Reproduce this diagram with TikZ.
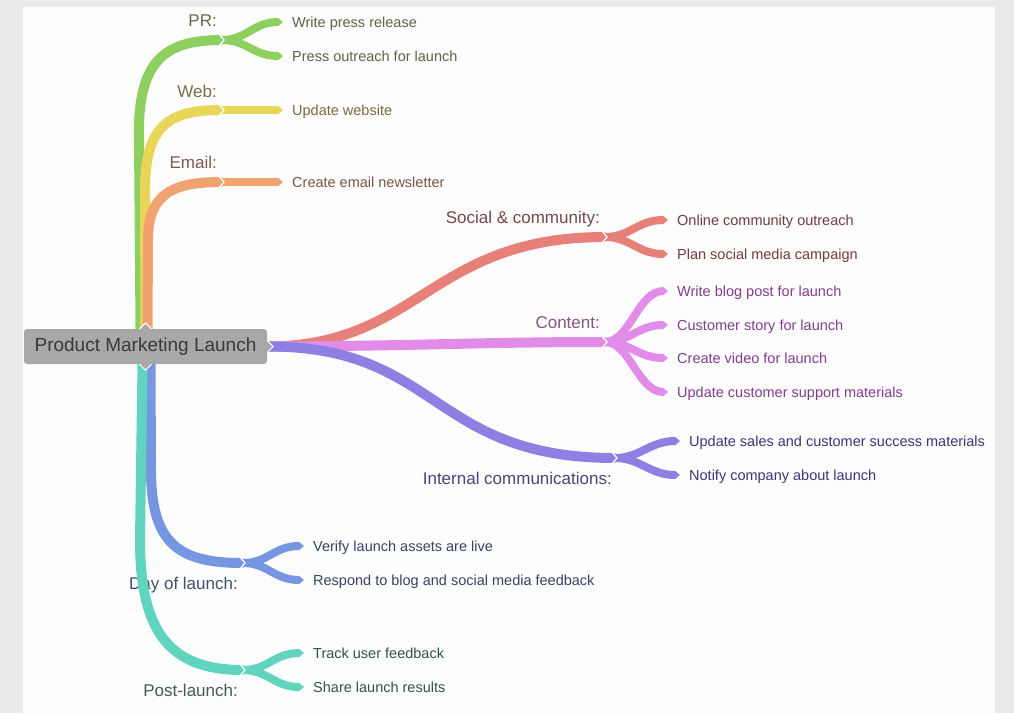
\documentclass[tikz,border=0pt]{standalone}
\usepackage{fontspec}
\setmainfont{Liberation Sans}
\usetikzlibrary{arrows.meta}
\definecolor{pagegray}{RGB}{234,234,234}
\definecolor{cardwhite}{RGB}{253,253,253}
\definecolor{rootgray}{RGB}{168,168,168}
\definecolor{roottext}{RGB}{58,58,58}
\definecolor{prgreen}{RGB}{141,208,96}
\definecolor{webyellow}{RGB}{232,214,88}
\definecolor{mailorange}{RGB}{240,162,112}
\definecolor{socred}{RGB}{232,128,122}
\definecolor{contpink}{RGB}{224,140,232}
\definecolor{intpurple}{RGB}{142,128,226}
\definecolor{dayblue}{RGB}{118,150,226}
\definecolor{postteal}{RGB}{96,212,190}
\definecolor{prtext}{RGB}{90,102,70}
\definecolor{webtext}{RGB}{120,105,62}
\definecolor{mailtext}{RGB}{118,86,68}
\definecolor{soctext}{RGB}{115,60,58}
\definecolor{conttext}{RGB}{130,62,140}
\definecolor{inttext}{RGB}{62,52,120}
\definecolor{daytext}{RGB}{55,68,102}
\definecolor{posttext}{RGB}{52,82,78}

\begin{document}
\begin{tikzpicture}[x=1pt,y=-1pt,
  limb/.style={line width=10pt,line cap=butt},
  twig/.style={line width=8pt,line cap=butt,-{Triangle[length=0pt 0.6,width=0pt 1,line width=0pt]}},
  notch/.style={white,line width=1.3pt},
  leaf/.style={anchor=west,inner sep=0pt,text height=10.4pt,text depth=0pt,font=\fontsize{14.5}{16}\selectfont},
  tag/.style={anchor=east,inner sep=0pt,text height=12.2pt,text depth=0pt,font=\fontsize{17}{19}\selectfont},
  root/.style={fill=rootgray,text=roottext,rounded corners=3pt,minimum width=243pt,minimum height=35pt,font=\fontsize{19}{21}\selectfont}]
    \useasboundingbox (0,0) rectangle (1014,713);
    \fill[pagegray] (0,0) rectangle (1014,713);
    \fill[cardwhite] (23,7) rectangle (995,713);

    \node[root] (pml) at (145.5,346.5) {Product Marketing Launch};

    % junctions
    \coordinate (prJ) at (222,40);   \coordinate (webJ) at (222,110);  \coordinate (mailJ) at (222,182);
    \coordinate (socJ) at (605,237); \coordinate (contJ) at (605,342); \coordinate (intJ) at (615,458);
    \coordinate (dayJ) at (243,563); \coordinate (postJ) at (243,670);

    % leaves
    \node[leaf,prtext] (pr1) at (292,22) {Write press release};
    \node[leaf,prtext] (pr2) at (292,56) {Press outreach for launch};
    \node[leaf,webtext] (web1) at (292,110) {Update website};
    \node[leaf,mailtext] (mail1) at (292,182) {Create email newsletter};
    \node[leaf,soctext] (soc1) at (677,220) {Online community outreach};
    \node[leaf,soctext] (soc2) at (677,254) {Plan social media campaign};
    \node[leaf,conttext] (cont1) at (677,291) {Write blog post for launch};
    \node[leaf,conttext] (cont2) at (677,325) {Customer story for launch};
    \node[leaf,conttext] (cont3) at (677,358) {Create video for launch};
    \node[leaf,conttext] (cont4) at (677,392) {Update customer support materials};
    \node[leaf,inttext] (int1) at (689,441) {Update sales and customer success materials};
    \node[leaf,inttext] (int2) at (689,475) {Notify company about launch};
    \node[leaf,daytext] (day1) at (313,546) {Verify launch assets are live};
    \node[leaf,daytext] (day2) at (313,580) {Respond to blog and social media feedback};
    \node[leaf,posttext] (post1) at (313,653) {Track user feedback};
    \node[leaf,posttext] (post2) at (313,687) {Share launch results};

    % branch labels
    \node[tag,prtext!80!gray] (prL) at (217,20) {PR:};
    \node[tag,webtext!80!gray] (webL) at (217,91) {Web:};
    \node[tag,mailtext!80!gray] (mailL) at (217,162) {Email:};
    \node[tag,soctext!80!gray] (socL) at (600,217) {Social \& community:};
    \node[tag,conttext!60!gray] (contL) at (600,322) {Content:};
    \node[tag,inttext!80!gray] (intL) at (612,478) {Internal communications:};
    \node[tag,daytext!80!gray] (dayL) at (238,583) {Day of launch:};
    \node[tag,posttext!80!gray] (postL) at (238,690) {Post-launch:};

    % limbs, top
    \draw[limb,prgreen] ([xshift=-5pt]pml.north) -- (139,140) .. controls (137,60) and (165,40) .. (prJ);
    \draw[limb,webyellow] ([xshift=0pt]pml.north) -- (145,190) .. controls (145,124) and (170,110) .. (webJ);
    \draw[limb,mailorange] ([xshift=2pt]pml.north) -- (148,240) .. controls (148,192) and (175,182) .. (mailJ);
    % limbs, right
    \draw[limb,socred] (pml.east) .. controls (420,346) and (430,237) .. (socJ);
    \draw[limb,contpink] (pml.east) .. controls (420,346) and (480,342) .. (contJ);
    \draw[limb,intpurple] (pml.east) .. controls (440,346) and (430,458) .. (intJ);
    % limbs, bottom
    \draw[limb,dayblue] ([xshift=5pt]pml.south) -- (151,470) .. controls (151,545) and (180,563) .. (dayJ);
    \draw[limb,postteal] ([xshift=-3pt]pml.south) -- (140,540) .. controls (140,635) and (172,670) .. (postJ);

    % twigs
    \foreach \leaf in {pr1,pr2} \draw[twig,prgreen] (prJ) .. controls +(25,0) and +(-30,0) .. ([xshift=-9pt]\leaf.west);
    \draw[twig,webyellow] (webJ) -- ([xshift=-9pt]web1.west);
    \draw[twig,mailorange] (mailJ) -- ([xshift=-9pt]mail1.west);
    \foreach \leaf in {soc1,soc2} \draw[twig,socred] (socJ) .. controls +(25,0) and +(-30,0) .. ([xshift=-9pt]\leaf.west);
    \foreach \leaf in {cont1,cont2,cont3,cont4} \draw[twig,contpink] (contJ) .. controls +(25,0) and +(-30,0) .. ([xshift=-9pt]\leaf.west);
    \foreach \leaf in {int1,int2} \draw[twig,intpurple] (intJ) .. controls +(25,0) and +(-30,0) .. ([xshift=-9pt]\leaf.west);
    \foreach \leaf in {day1,day2} \draw[twig,dayblue] (dayJ) .. controls +(25,0) and +(-30,0) .. ([xshift=-9pt]\leaf.west);
    \foreach \leaf in {post1,post2} \draw[twig,postteal] (postJ) .. controls +(25,0) and +(-30,0) .. ([xshift=-9pt]\leaf.west);

    % white notches at the joints
    \foreach \j in {prJ,webJ,mailJ,socJ,contJ,intJ,dayJ,postJ}
        \draw[notch] ([shift={(-3,-6)}]\j) -- ([shift={(2,0)}]\j) -- ([shift={(-3,6)}]\j);

    % pointers of the root
    \draw[white,line width=1pt,fill=rootgray] ([xshift=-6pt]pml.north) -- ([yshift=6pt]pml.north) -- ([xshift=6pt]pml.north);
    \draw[white,line width=1pt,fill=rootgray] ([xshift=-6pt]pml.south) -- ([yshift=-6pt]pml.south) -- ([xshift=6pt]pml.south);
    \draw[white,line width=1pt,fill=rootgray] ([yshift=6pt]pml.east) -- ([xshift=6pt]pml.east) -- ([yshift=-6pt]pml.east);
\end{tikzpicture}
\end{document}
